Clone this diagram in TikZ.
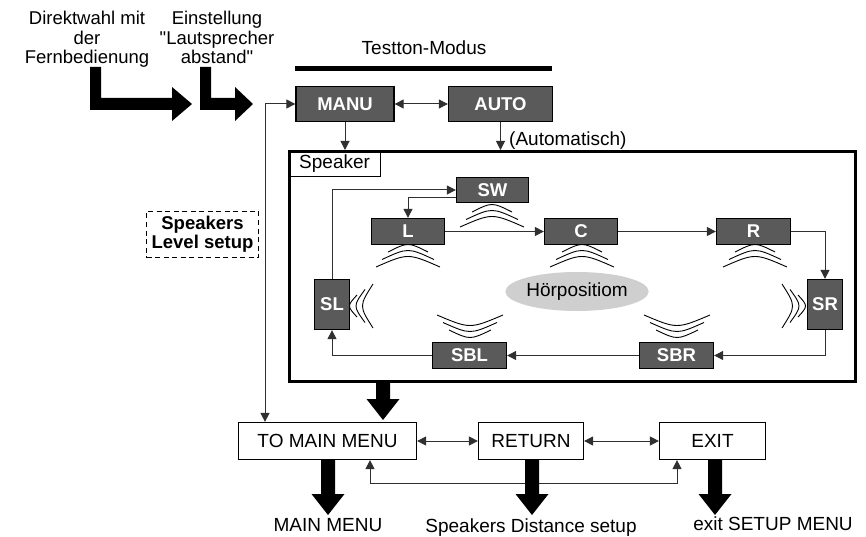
\documentclass[tikz,border=0pt]{standalone}
\usepackage{fontspec}
\setmainfont{Liberation Sans}[Ligatures=TeXOff]
\usetikzlibrary{arrows.meta,shapes.geometric}
\definecolor{boxgray}{HTML}{5A5A5A}
\definecolor{ellgray}{HTML}{CFCFCF}
\definecolor{linegray}{HTML}{303030}
\newcommand\fatdn[3]{\fill ({#1-7},#2) -- ({#1+7},#2) -- ({#1+7},{#3-21}) -- ({#1+16.5},{#3-21}) -- (#1,#3) -- ({#1-16.5},{#3-21}) -- ({#1-7},{#3-21}) -- cycle;}
\newcommand\wvdn[2]{\foreach \i in {0,1,2}{\draw[wave] ({#1-20-6*\i},{#2+6.5*\i+5+\i}) .. controls (#1,{#2+6.5*\i-5-\i}) .. ({#1+20+6*\i},{#2+6.5*\i+5+\i});}}
\newcommand\wvup[2]{\foreach \i in {0,1,2}{\draw[wave] ({#1-21-6*\i},{#2-6.5*\i-5-\i}) .. controls (#1,{#2-6.5*\i+5+\i}) .. ({#1+21+6*\i},{#2-6.5*\i-5-\i});}}
\newcommand\wvlt[2]{\foreach \i in {0,1,2}{\draw[wave] ({#1+7*\i+5+\i},{#2-11-5.5*\i}) .. controls ({#1+7*\i-5-\i},#2) .. ({#1+7*\i+5+\i},{#2+11+5.5*\i});}}
\newcommand\wvrt[2]{\foreach \i in {0,1,2}{\draw[wave] ({#1-7*\i-5-\i},{#2-11-5.5*\i}) .. controls ({#1-7*\i+5+\i},#2) .. ({#1-7*\i-5-\i},{#2+11+5.5*\i});}}
\begin{document}
\begin{tikzpicture}[x=1pt,y=-1pt,
  >={Triangle[length=9pt,width=9pt]},
  txt/.style={inner sep=0pt, font=\fontsize{19}{21}\selectfont},
  dark/.style={draw=black, line width=1.3pt, fill=boxgray, text=white, inner sep=0pt, font=\fontsize{18.5}{20}\selectfont\bfseries},
  wbox/.style={draw=black, line width=1.2pt, fill=white, inner sep=0pt, minimum height=37, font=\fontsize{19}{21}\selectfont},
  conn/.style={draw=linegray, line width=1pt},
  wave/.style={draw=black, line width=0.9pt},
]
\useasboundingbox (0,0) rectangle (866,537);

% top-left texts and fat L arrows
\node[txt, align=center, anchor=north, font=\fontsize{18.5}{19.5}\selectfont] (T1) at (87,11) {Direktwahl mit\\der\\Fernbedienung};
\node[txt, align=center, anchor=north, font=\fontsize{18.5}{19.5}\selectfont] (T2) at (217,11) {Einstellung\\"Lautsprecher\\abstand"};
\fill (90,67) -- (101,67) -- (101,98) -- (172,98) -- (172,87) -- (192,104) -- (172,121) -- (172,110) -- (90,110) -- cycle;
\fill (200,67) -- (211,67) -- (211,98) -- (235,98) -- (235,87) -- (253,104) -- (235,121) -- (235,110) -- (200,110) -- cycle;

% Testton-Modus
\node[txt, anchor=base] (tm) at (424,55) {Testton-Modus};
\draw[line width=5pt] (295,68.5) -- (552,68.5);
\node[dark, minimum width=98, minimum height=35] (MANU) at (345,104) {MANU};
\node[dark, minimum width=104, minimum height=35] (AUTO) at (500.5,104) {AUTO};
\node[txt, anchor=west] (auto) at (509,141) {(Automatisch)};

% speaker frame
\node[draw, line width=3pt, minimum width=566, minimum height=230, inner sep=0pt] (frame) at (572.5,266.5) {};
\node[draw, line width=1.2pt, anchor=north west, minimum width=92, minimum height=26, inner sep=0pt, font=\fontsize{19}{21}\selectfont] (spk) at (frame.north west) {Speaker};

\node[ellipse, fill=ellgray, minimum width=121, minimum height=39, inner sep=0pt, font=\fontsize{19}{21}\selectfont] (HP) at (577,291.5) {Hörpositiom};

\node[dark, minimum width=72, minimum height=25] (SW) at (492.5,190) {SW};
\node[dark, minimum width=73, minimum height=26] (L) at (408,231.5) {L};
\node[dark, minimum width=73, minimum height=26] (C) at (581,231.5) {C};
\node[dark, minimum width=74, minimum height=26] (R) at (753.5,231.5) {R};
\node[dark, minimum width=35, minimum height=50] (SR) at (825,304.5) {SR};
\node[dark, minimum width=74, minimum height=26] (SBR) at (676.5,355.5) {SBR};
\node[dark, minimum width=74, minimum height=26] (SBL) at (469.5,355.5) {SBL};
\node[dark, minimum width=35, minimum height=50] (SL) at (332,304.5) {SL};

\wvdn{492}{207}
\wvdn{408}{247}
\wvdn{582}{247}
\wvdn{755}{247}
\wvup{470}{335}
\wvup{677}{335}
\wvlt{352}{306}
\wvrt{803}{306}

% left dashed box
\node[draw, dash pattern=on 5pt off 3.5pt, line width=1.3pt, minimum width=112, minimum height=46, align=center, inner sep=0pt, font=\fontsize{18.5}{19}\selectfont\bfseries] (SLS) at (202.5,234.5) {Speakers\\Level setup};

% bottom boxes
\node[wbox, minimum width=178] (TMM) at (327.5,441) {TO MAIN MENU};
\node[wbox, minimum width=105] (RET) at (531,441) {RETURN};
\node[wbox, minimum width=106] (EXIT) at (712.5,441) {EXIT};

% connectors
\draw[conn,<->] (MANU) -- (AUTO);
\draw[conn,->] (MANU.south) -- (MANU.south |- frame.north);
\draw[conn,->] (AUTO.south) -- (AUTO.south |- frame.north);
\coordinate (lx) at (265,0);
\draw[conn,<->] (MANU.west) -| (lx |- TMM.north);
\draw[conn,->] (SL.north) |- (SW.west);
\draw[conn,->] ([yshift=-8pt]SW.west) -| (L.north);
\draw[conn,->] (L) -- (C);
\draw[conn,->] (C) -- (R);
\draw[conn,->] (R.east) -| (SR.north);
\draw[conn,->] (SR.south) |- (SBR.east);
\draw[conn,->] (SBR) -- (SBL);
\draw[conn,->] (SBL.west) -| (SL.south);
\draw[conn,<->] (TMM) -- (RET);
\draw[conn,<->] (RET) -- (EXIT);
\coordinate (b1) at (370,483);
\coordinate (b2) at (677,483);
\draw[conn,<->] (b1 |- TMM.south) -- (b1) -- (b2) -- (b2 |- EXIT.south);

% fat arrows
\fatdn{383}{383}{420}
\fatdn{328}{460}{515}
\fatdn{532}{460}{515}
\fatdn{715}{460}{515}

% bottom labels
\node[txt, anchor=base] (mm) at (328,531.5) {MAIN MENU};
\node[txt, anchor=base] (sds) at (531,532.5) {Speakers Distance setup};
\node[txt, anchor=base] (esm) at (773,530) {exit SETUP MENU};
\end{tikzpicture}
\end{document}
